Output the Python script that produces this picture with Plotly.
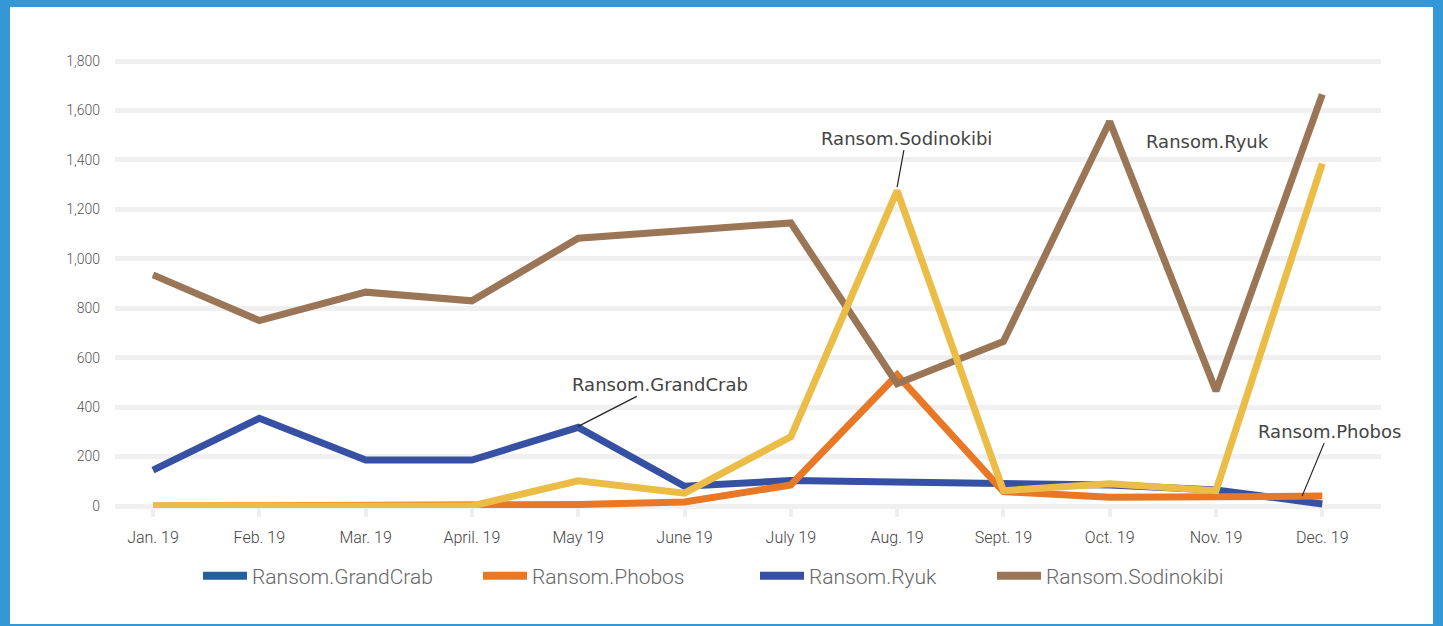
import plotly.graph_objects as go

# Month categories on the x axis
months = ["Jan. 19", "Feb. 19", "Mar. 19", "April. 19", "May 19", "June 19",
          "July 19", "Aug. 19", "Sept. 19", "Oct. 19", "Nov. 19", "Dec. 19"]

# Monthly detection counts per ransomware family
grandcrab = [145, 355, 186, 186, 318, 80, 103, 96, 92, 85, 65, 8]
phobos = [0, 0, 0, 0, 6, 16, 85, 530, 58, 35, 38, 40]
ryuk = [935, 750, 865, 830, 1083, 1113, 1145, 495, 665, 1555, 465, 1665]
sodinokibi = [0, 0, 0, 0, 102, 52, 280, 1275, 62, 90, 62, 1385]

y_tick_values = [0, 200, 400, 600, 800, 1000, 1200, 1400, 1600, 1800]
y_tick_labels = ["0", "200", "400", "600", "800", "1,000", "1,200", "1,400", "1,600", "1,800"]

# Legend entries as they appear under the chart
legend_names = ["Ransom.GrandCrab", "Ransom.Phobos", "Ransom.Ryuk", "Ransom.Sodinokibi"]
legend_colors = ["#22609e", "#e87726", "#3651a3", "#9a7656"]

BLUE = "#3651a3"
ORANGE = "#e87726"
BROWN = "#9a7656"
YELLOW = "#ebbd47"
W = 1443
H = 626

fig = go.Figure()
for series, color in [(grandcrab, BLUE), (phobos, ORANGE), (ryuk, BROWN), (sodinokibi, YELLOW)]:
    fig.add_trace(go.Scatter(x=months, y=series, mode="lines",
                             line=dict(color=color, width=7),
                             showlegend=False, hoverinfo="x+y"))

# Separate legends so each entry sits at its own spot
legend_x_px = [198, 478, 755, 992]
plot_left, plot_right, plot_top, plot_bottom = 115, 1381, 40, 508
legend_keys = ["legend", "legend2", "legend3", "legend4"]
for name, color, key in zip(legend_names, legend_colors, legend_keys):
    fig.add_trace(go.Scatter(x=[None], y=[None], mode="lines", name=name,
                             line=dict(color=color, width=8), legend=key))

legend_y = (plot_bottom - 576) / (plot_bottom - plot_top)
legend_font = dict(family="Roboto", size=21, color="#666666", weight=300)
for key, px in zip(legend_keys, legend_x_px):
    fig.update_layout({key: dict(x=(px - plot_left) / (plot_right - plot_left), y=legend_y,
                                 xanchor="left", yanchor="middle", orientation="h",
                                 font=legend_font, bgcolor="rgba(0,0,0,0)",
                                 itemwidth=44)})

note_font = dict(family="DejaVu Sans", size=18, color="#444444")
notes = [
    dict(x=months[7], y=1290, text="Ransom.Sodinokibi", ax=9, ay=-49),
    dict(x=months[4], y=322, text="Ransom.GrandCrab", ax=82, ay=-42),
    dict(x=10.81, y=40, text="Ransom.Phobos", ax=27, ay=-65),
]
for n in notes:
    fig.add_annotation(x=n["x"], y=n["y"], text=n["text"], showarrow=True,
                       arrowhead=0, arrowwidth=1.2, arrowcolor="#222222",
                       ax=n["ax"], ay=n["ay"], font=note_font)
fig.add_annotation(x=9.92, y=1476, text="Ransom.Ryuk", showarrow=False, font=note_font)

# White card framed by a blue border
fig.add_shape(type="rect", xref="paper", yref="paper", layer="below",
              x0=(10 - plot_left) / (plot_right - plot_left),
              x1=(1433 - plot_left) / (plot_right - plot_left),
              y0=(plot_bottom - 624) / (plot_bottom - plot_top),
              y1=(plot_bottom - 7) / (plot_bottom - plot_top),
              line=dict(width=0), fillcolor="white")

px_per_unit = 445 / 1800
y_lo = -(plot_bottom - 506) / px_per_unit
y_hi = (506 - plot_top) / px_per_unit
step = 106.3
x_lo = (plot_left - 153) / step
x_hi = (plot_right - 153) / step

fig.update_layout(
    width=W, height=H,
    margin=dict(l=plot_left, r=W - plot_right, t=plot_top, b=H - plot_bottom),
    paper_bgcolor="#3498d6",
    plot_bgcolor="rgba(0,0,0,0)",
    xaxis=dict(type="category", range=[x_lo, x_hi], showgrid=False, zeroline=False,
               showline=False, ticks="outside", ticklen=8, tickwidth=4,
               tickcolor="#eeeeee", ticklabelstandoff=7,
               tickfont=dict(family="Roboto", size=16, color="#444444", weight=300)),
    yaxis=dict(range=[y_lo, y_hi], tickvals=y_tick_values, ticktext=y_tick_labels,
               showgrid=True, gridcolor="#f0f0f0", gridwidth=5, zeroline=False,
               showline=False, ticklabelstandoff=14,
               tickfont=dict(family="Roboto", size=14, color="#555555", weight=300)),
)

fig.write_html("out.html")
